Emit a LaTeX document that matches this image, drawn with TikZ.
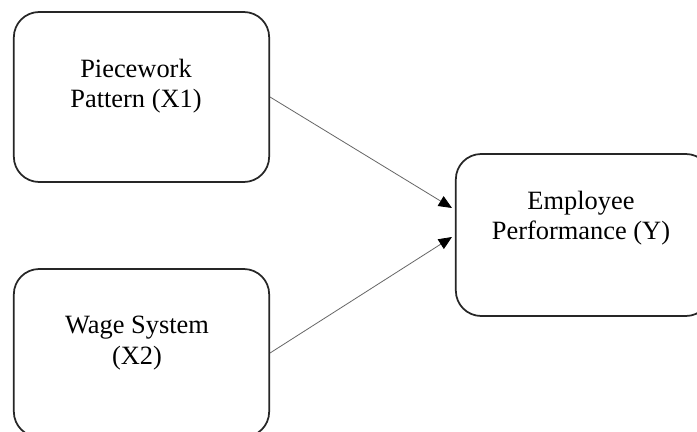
\documentclass[tikz,border=0pt]{standalone}
\usepackage{fontspec}
\setmainfont{Liberation Serif}
\usetikzlibrary{arrows.meta}
\begin{document}
\begin{tikzpicture}[x=0.75pt,y=-0.75pt,
  box/.style={draw=black!85,line width=1.3pt,rounded corners=19pt,minimum width=191.5pt,inner sep=0pt},
  txt/.style={align=center,font=\fontsize{19.8}{23}\selectfont,inner sep=0pt},
  arr/.style={draw=black!60,line width=0.6pt,-{Triangle[length=10pt,width=8.5pt,color=black]}}]
\useasboundingbox (0,0) rectangle (697,432);
\clip (0,0) rectangle (697,432);
\fill[white] (0,0) rectangle (697,432);
\node[box,minimum height=127.5pt] (b1) at (141.5,97) {};
\node[box,minimum height=126pt] (b2) at (141.5,353) {};
\node[box,minimum height=121.5pt] (b3) at (583.5,235) {};
\node[txt] (t1) at (136,86) {Piecework\\Pattern (X1)};
\node[txt] (t2) at (137,343) {Wage System\\(X2)};
\node[txt] (t3) at (581,218) {Employee\\Performance (Y)};
\coordinate (e1) at (452,208);
\coordinate (e2) at (452,237);
\draw[arr] (b1.east) -- (e1);
\draw[arr] (b2.east) -- (e2);
\end{tikzpicture}
\end{document}
